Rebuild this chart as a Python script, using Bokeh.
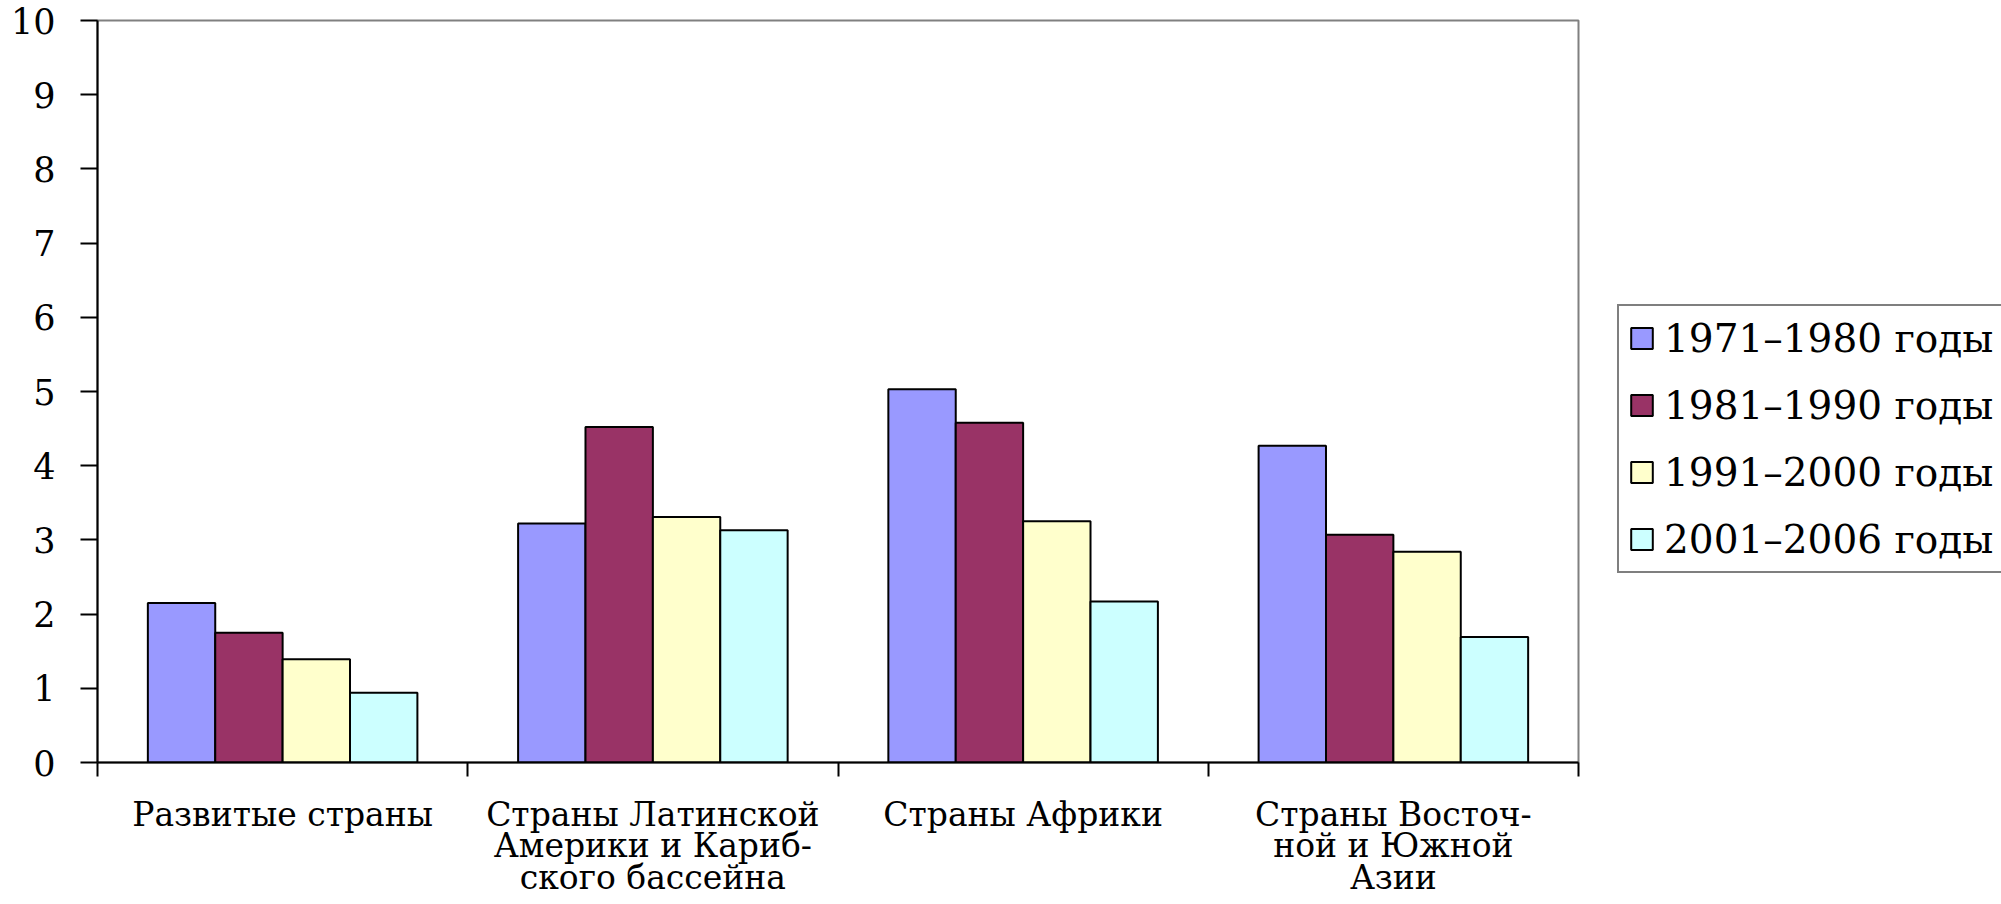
from bokeh.plotting import figure
from bokeh.models import Range1d, FixedTicker
from bokeh.embed import file_html
from bokeh.resources import INLINE

categories = [
    "Развитые страны",
    "Страны Латинской\nАмерики и Кариб-\nского бассейна",
    "Страны Африки",
    "Страны Восточ-\nной и Южной\nАзии",
]
series_names = ["1971–1980 годы", "1981–1990 годы", "1991–2000 годы", "2001–2006 годы"]
v1971_1980 = [2.15, 3.22, 5.03, 4.27]
v1981_1990 = [1.75, 4.52, 4.58, 3.07]
v1991_2000 = [1.39, 3.31, 3.25, 2.84]
v2001_2006 = [0.94, 3.13, 2.17, 1.69]
series_values = [v1971_1980, v1981_1990, v1991_2000, v2001_2006]
series_colors = ["#9999FF", "#993366", "#FFFFCC", "#CCFFFF"]
y_ticks = [0, 1, 2, 3, 4, 5, 6, 7, 8, 9, 10]

FONT = "DejaVu Serif"
bar_w = 0.182
gap = (1 - 4 * bar_w) / 2

p = figure(
    frame_width=1481, frame_height=742,
    min_border_left=97, min_border_top=20, min_border_right=420, min_border_bottom=138,
    x_range=Range1d(0, len(categories)), y_range=Range1d(0, 10),
    output_backend="svg", toolbar_location=None,
)
p.background_fill_color = "white"
p.border_fill_color = "white"
p.xgrid.visible = False
p.ygrid.visible = False
p.outline_line_color = "#808080"
p.outline_line_width = 2

for j, (name, vals, col) in enumerate(zip(series_names, series_values, series_colors)):
    xs = [i + gap + bar_w * (j + 0.5) for i in range(len(categories))]
    p.vbar(x=xs, top=vals, bottom=0, width=bar_w, fill_color=col,
           line_color="black", line_width=2, legend_label=name)

# y axis
ya = p.yaxis[0]
ya.ticker = FixedTicker(ticks=y_ticks, minor_ticks=[])
ya.axis_line_color = "black"
ya.axis_line_width = 2
ya.major_tick_line_color = "black"
ya.major_tick_line_width = 2
ya.major_tick_out = 17
ya.major_tick_in = 0
ya.minor_tick_line_color = None
ya.major_label_standoff = 25
ya.major_label_text_font = FONT
ya.major_label_text_font_size = "35px"
ya.major_label_text_color = "black"

# x axis: labels centred in categories, ticks on boundaries
xa = p.xaxis[0]
centers = [i + 0.5 for i in range(len(categories))]
bounds = [float(i) for i in range(len(categories) + 1)]
xa.ticker = FixedTicker(ticks=centers, minor_ticks=bounds)
xa.major_label_overrides = {c: lab for c, lab in zip(centers, categories)}
xa.axis_line_color = "black"
xa.axis_line_width = 2
xa.major_tick_line_color = None
xa.major_tick_out = 14
xa.major_tick_in = 0
xa.minor_tick_line_color = "black"
xa.minor_tick_line_width = 2
xa.minor_tick_out = 14
xa.minor_tick_in = 0
xa.major_label_standoff = 18
xa.major_label_text_font = FONT
xa.major_label_text_font_size = "33px"
xa.major_label_text_line_height = 0.82
xa.major_label_text_color = "black"

# legend, in the right-hand panel
lg = p.legend[0]
p.center.remove(lg)
lg.location = (39, 189)
lg.orientation = "vertical"
lg.border_line_color = "black"
lg.border_line_width = 2
lg.background_fill_color = "white"
lg.background_fill_alpha = 1
lg.label_text_font = FONT
lg.label_text_font_size = "39px"
lg.label_text_color = "black"
lg.glyph_width = 27
lg.glyph_height = 26
lg.label_height = 46
lg.label_width = 380
lg.spacing = 21
lg.padding = 9
lg.margin = 0
lg.label_standoff = 9
p.add_layout(lg, "right")

open("out.html", "w").write(file_html(p, INLINE))
